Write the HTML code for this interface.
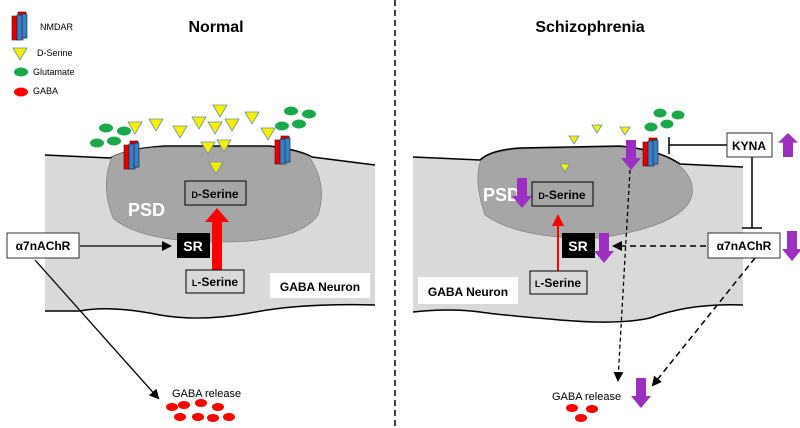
<!DOCTYPE html>
<html><head><meta charset="utf-8"><style>
html,body{margin:0;padding:0;background:#fff;}
svg{display:block;font-family:"Liberation Sans",sans-serif;}
</style></head><body>
<svg width="800" height="428" viewBox="0 0 800 428" xmlns="http://www.w3.org/2000/svg">
<defs>
<marker id="ah" markerWidth="10" markerHeight="10" refX="8" refY="5" orient="auto" markerUnits="userSpaceOnUse"><path d="M0,0 L10,5 L0,10 z" fill="#000"/></marker>
<g id="nm"><rect x="0" y="4" width="7" height="24" fill="#e00000" stroke="#600" stroke-width="0.6"/><rect x="6" y="0" width="8" height="26" fill="#e00000" stroke="#600" stroke-width="0.6"/><rect x="5" y="3" width="6" height="25" fill="#3a7fc4" stroke="#123" stroke-width="0.6"/><rect x="10" y="2" width="5" height="24" fill="#3a7fc4" stroke="#123" stroke-width="0.6"/></g>
<path id="tri" d="M-7,-6 L7,-6 L0,6 z" fill="#f5f000" stroke="#6a8ab0" stroke-width="0.8"/>
<path id="tris" d="M-5,-4 L5,-4 L0,4 z" fill="#f5f000" stroke="#6a8ab0" stroke-width="0.8"/>
<path id="pd" d="M-5,0 L5,0 L5,18 L10,18 L0,30 L-10,18 L-5,18 z" fill="#9b30c0"/>
</defs>

<line x1="395" y1="0" x2="395" y2="428" stroke="#000" stroke-width="1.5" stroke-dasharray="6,4"/>

<use href="#nm" x="12" y="12"/>
<text x="40" y="30" font-size="9">NMDAR</text>
<use href="#tri" x="20" y="54"/>
<text x="37" y="56" font-size="9">D-Serine</text>
<ellipse cx="21" cy="72" rx="7" ry="4.5" fill="#1aa84a"/>
<text x="33" y="75" font-size="9">Glutamate</text>
<ellipse cx="21" cy="92" rx="7" ry="4.5" fill="#f00"/>
<text x="33" y="94" font-size="9">GABA</text>

<text x="216" y="32" font-size="16" font-weight="bold" text-anchor="middle">Normal</text>
<text x="590" y="32" font-size="16" font-weight="bold" text-anchor="middle">Schizophrenia</text>

<!-- LEFT cell -->
<path d="M45,155 L110,158 Q130,148 165,146 L270,146 Q300,150 312,157 L375,165 L375,305 Q300,303 250,313 Q200,322 160,315 Q110,305 80,311 L45,311 Z" fill="#d9d9d9"/>
<path d="M45,155 L110,158 Q130,148 165,146 L270,146 Q300,150 312,157 L375,165" fill="none" stroke="#000" stroke-width="1.5"/>
<path d="M45,311 L80,311 Q110,305 160,315 Q200,322 250,313 Q300,303 375,305" fill="none" stroke="#000" stroke-width="1.5"/>
<path d="M112,157 Q130,148 165,147 L270,147 Q300,151 310,158 Q328,185 318,215 Q300,242 220,242 Q140,242 113,218 Q100,185 112,157 Z" fill="#a6a6a6" stroke="#777" stroke-width="0.6"/>
<text x="128" y="216" font-size="18" font-weight="bold" fill="#fff">PSD</text>
<rect x="185" y="181" width="61" height="24" fill="#a6a6a6" stroke="#000" stroke-width="1"/>
<text x="215" y="198" font-size="12" font-weight="bold" text-anchor="middle"><tspan font-size="9">D</tspan>-Serine</text>
<path d="M212,270 L222,270 L222,222 L229,222 L217,208 L205,222 L212,222 Z" fill="#f00"/>
<rect x="177" y="233" width="33" height="25" fill="#000"/>
<text x="193" y="251" font-size="14" font-weight="bold" fill="#fff" text-anchor="middle">SR</text>
<rect x="186" y="270" width="58" height="23" fill="#d9d9d9" stroke="#000" stroke-width="1"/>
<text x="215" y="286" font-size="12" font-weight="bold" text-anchor="middle"><tspan font-size="9">L</tspan>-Serine</text>
<rect x="270" y="273" width="100" height="25" fill="#fff"/>
<text x="320" y="291" font-size="12" font-weight="bold" text-anchor="middle">GABA Neuron</text>
<rect x="7" y="233" width="72" height="25" fill="#fff" stroke="#000" stroke-width="0.8"/>
<text x="43" y="250" font-size="12" font-weight="bold" text-anchor="middle">α7nAChR</text>
<line x1="80" y1="246" x2="170" y2="246" stroke="#000" stroke-width="1.3" marker-end="url(#ah)"/>
<line x1="35" y1="260" x2="158" y2="398" stroke="#000" stroke-width="1.3" marker-end="url(#ah)"/>
<text x="172" y="397" font-size="11">GABA release</text>
<g fill="#f00">
<ellipse cx="172" cy="407" rx="6" ry="4"/><ellipse cx="184" cy="405" rx="6" ry="4"/><ellipse cx="201" cy="403" rx="6" ry="4"/><ellipse cx="218" cy="407" rx="6" ry="4"/>
<ellipse cx="180" cy="417" rx="6" ry="4"/><ellipse cx="198" cy="417" rx="6" ry="4"/><ellipse cx="213" cy="418" rx="6" ry="4"/><ellipse cx="229" cy="417" rx="6" ry="4"/>
</g>
<g fill="#1aa84a">
<ellipse cx="106" cy="128" rx="7" ry="4.5"/><ellipse cx="124" cy="131" rx="7" ry="4.5"/><ellipse cx="97" cy="143" rx="7" ry="4.5"/><ellipse cx="114" cy="141" rx="7" ry="4.5"/>
<ellipse cx="291" cy="111" rx="7" ry="4.5"/><ellipse cx="309" cy="114" rx="7" ry="4.5"/><ellipse cx="282" cy="126" rx="7" ry="4.5"/><ellipse cx="299" cy="124" rx="7" ry="4.5"/>
</g>
<use href="#tri" x="135" y="128"/><use href="#tri" x="156" y="125"/><use href="#tri" x="180" y="132"/><use href="#tri" x="199" y="123"/>
<use href="#tri" x="220" y="111"/><use href="#tri" x="215" y="128"/><use href="#tri" x="232" y="125"/><use href="#tri" x="252" y="118"/>
<use href="#tri" x="268" y="134"/><use href="#tri" x="208" y="148"/><use href="#tri" x="224" y="146"/><use href="#tri" x="216" y="168"/>
<use href="#nm" x="124" y="141"/>
<use href="#nm" x="275" y="136"/>

<!-- RIGHT cell -->
<path d="M413,157 L480,160 Q490,150 520,148 L620,146 Q660,150 680,164 L743,167 L743,305 Q690,303 650,318 Q620,325 560,320 Q500,315 480,312 Q450,308 413,312 Z" fill="#d9d9d9"/>
<path d="M481,160 Q492,151 520,149 L620,147 Q655,150 672,160 Q695,175 692,195 Q685,225 600,238 Q520,240 485,215 Q473,180 481,160 Z" fill="#a6a6a6" stroke="#777" stroke-width="0.6"/>
<path d="M413,157 L480,160 Q490,150 520,148 L620,146 Q660,150 680,164 L743,167" fill="none" stroke="#000" stroke-width="1.5"/>
<path d="M413,312 Q450,308 480,312 Q500,315 560,320 Q620,325 650,318 Q690,303 743,305" fill="none" stroke="#000" stroke-width="1.5"/>
<text x="483" y="201" font-size="18" font-weight="bold" fill="#fff">PSD</text>
<use href="#pd" x="522" y="178"/>
<rect x="532" y="182" width="61" height="24" fill="#a6a6a6" stroke="#000" stroke-width="1"/>
<text x="562" y="199" font-size="12" font-weight="bold" text-anchor="middle"><tspan font-size="9">D</tspan>-Serine</text>
<line x1="558" y1="271" x2="558" y2="224" stroke="#f00" stroke-width="2"/>
<path d="M552,226 L558,214 L564,226 z" fill="#f00"/>
<rect x="562" y="233" width="33" height="25" fill="#000"/>
<text x="578" y="251" font-size="14" font-weight="bold" fill="#fff" text-anchor="middle">SR</text>
<use href="#pd" x="604" y="233"/>
<rect x="530" y="271" width="57" height="23" fill="#d9d9d9" stroke="#000" stroke-width="1"/>
<text x="558" y="287" font-size="12" font-weight="bold" text-anchor="middle"><tspan font-size="9">L</tspan>-Serine</text>
<rect x="418" y="277" width="100" height="27" fill="#fff"/>
<text x="468" y="296" font-size="12" font-weight="bold" text-anchor="middle">GABA Neuron</text>
<rect x="708" y="233" width="72" height="25" fill="#fff" stroke="#000" stroke-width="0.8"/>
<text x="744" y="250" font-size="12" font-weight="bold" text-anchor="middle">α7nAChR</text>
<use href="#pd" x="792" y="231"/>
<rect x="727" y="133" width="45" height="24" fill="#fff" stroke="#000" stroke-width="0.8"/>
<text x="749" y="150" font-size="12" font-weight="bold" text-anchor="middle">KYNA</text>
<use href="#pd" transform="translate(788,157) scale(1,-0.8)"/>
<line x1="706" y1="246" x2="614" y2="246" stroke="#000" stroke-width="1.5" stroke-dasharray="6,4" marker-end="url(#ah)"/>
<line x1="727" y1="145" x2="669" y2="145" stroke="#000" stroke-width="1.5"/>
<line x1="669" y1="137" x2="669" y2="154" stroke="#000" stroke-width="1.5"/>
<line x1="752" y1="157" x2="752" y2="228" stroke="#000" stroke-width="1.5"/>
<line x1="742" y1="228" x2="762" y2="228" stroke="#000" stroke-width="1.5"/>
<line x1="630" y1="170" x2="618" y2="380" stroke="#000" stroke-width="1.3" stroke-dasharray="4,3" marker-end="url(#ah)"/>
<line x1="755" y1="258" x2="653" y2="385" stroke="#000" stroke-width="1.5" stroke-dasharray="6,4" marker-end="url(#ah)"/>
<text x="552" y="400" font-size="11">GABA release</text>
<use href="#pd" x="641" y="378"/>
<g fill="#f00"><ellipse cx="572" cy="408" rx="6" ry="4"/><ellipse cx="592" cy="409" rx="6" ry="4"/><ellipse cx="581" cy="418" rx="6" ry="4"/></g>
<g fill="#1aa84a"><ellipse cx="660" cy="113" rx="6.5" ry="4.5"/><ellipse cx="678" cy="115" rx="6.5" ry="4.5"/><ellipse cx="667" cy="124" rx="6.5" ry="4.5"/><ellipse cx="651" cy="127" rx="6.5" ry="4.5"/></g>
<use href="#tris" x="574" y="140"/><use href="#tris" x="597" y="129"/><use href="#tris" x="625" y="131"/><use href="#tris" x="565" y="168"/>
<use href="#pd" x="631" y="140"/>
<use href="#nm" x="643" y="138"/>
</svg>
</body></html>
